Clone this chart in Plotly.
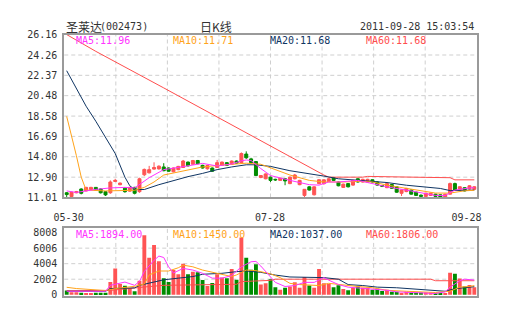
import plotly.graph_objects as go

# ---------------- data ----------------
stock_name = "圣莱达"
stock_code = "(002473)"
chart_title = "日K线"
timestamp = "2011-09-28 15:03:54"
x_tick_labels = ["05-30", "07-28", "09-28"]
price_ticks = [11.01, 12.90, 14.80, 16.69, 18.58, 20.48, 22.37, 24.26, 26.16]
volume_ticks = [0, 2002, 4004, 6006, 8008]

price_legend = ["MA5:11.96", "MA10:11.71", "MA20:11.68", "MA60:11.68"]
volume_legend = ["MA5:1894.00", "MA10:1450.00", "MA20:1037.00", "MA60:1806.00"]

open_ = [11.45, 11.10, 11.45, 11.80, 11.62, 11.75, 11.95, 11.80, 11.55, 11.45,
         12.50, 12.20, 11.88, 11.60, 11.95, 11.55, 13.12, 13.30, 13.65, 13.67,
         13.85, 13.75, 13.40, 13.60, 13.80, 14.30, 14.10, 14.45, 14.00, 13.68,
         13.75, 13.80, 14.00, 14.25, 14.10, 14.40, 14.25, 15.05, 14.60, 14.35,
         12.87, 12.75, 12.90, 12.70, 12.60, 12.75, 12.30, 12.75, 12.20, 11.20,
         12.00, 11.26, 12.30, 12.30, 12.50, 12.85, 12.45, 11.95, 12.30, 12.16,
         12.75, 12.45, 12.45, 12.66, 12.45, 12.12, 11.92, 12.22, 12.00, 11.40,
         11.56, 11.71, 11.50, 11.22, 11.11, 11.20, 11.32, 11.26, 11.05, 11.32,
         12.30, 11.71, 11.92, 11.80, 11.77]
close_ = [11.28, 11.50, 11.55, 11.40, 11.95, 11.95, 11.70, 11.45, 11.25, 12.45,
          12.60, 12.35, 11.55, 11.95, 11.40, 12.75, 13.62, 13.60, 13.80, 13.92,
          13.50, 13.45, 13.75, 13.90, 14.40, 13.95, 14.45, 14.15, 13.75, 13.98,
          13.45, 14.25, 14.30, 14.00, 14.40, 14.20, 15.10, 14.70, 14.25, 13.05,
          13.05, 13.20, 12.60, 12.65, 12.80, 12.55, 12.90, 13.10, 12.60, 11.77,
          11.70, 12.00, 12.66, 12.65, 12.75, 12.60, 12.10, 12.25, 12.00, 12.60,
          12.45, 12.70, 12.70, 12.45, 12.16, 12.06, 12.30, 11.86, 11.50, 11.71,
          11.86, 11.32, 11.20, 11.12, 11.41, 11.41, 11.11, 11.06, 11.32, 12.30,
          11.71, 12.01, 11.62, 12.10, 12.01]
high_ = [11.52, 11.55, 11.62, 11.86, 12.00, 12.00, 11.98, 11.85, 11.60, 12.60,
         12.75, 12.40, 11.95, 12.00, 12.00, 12.85, 13.70, 13.95, 14.28, 14.00,
         14.20, 13.80, 13.80, 13.95, 14.50, 14.35, 14.50, 14.50, 14.05, 14.05,
         13.80, 14.50, 14.35, 14.30, 14.45, 14.45, 15.20, 15.30, 14.70, 14.40,
         13.10, 13.25, 12.95, 12.75, 12.85, 12.80, 12.95, 13.20, 12.65, 11.80,
         12.05, 12.05, 12.70, 12.70, 12.80, 12.90, 12.50, 12.30, 12.35, 12.65,
         12.80, 12.75, 12.75, 12.70, 12.50, 12.16, 12.35, 12.25, 12.05, 11.75,
         11.90, 11.75, 11.55, 11.30, 11.45, 11.45, 11.35, 11.30, 11.35, 12.40,
         12.39, 12.05, 11.97, 12.15, 12.05]
low_ = [11.05, 11.02, 11.40, 11.30, 11.58, 11.70, 11.65, 11.38, 11.15, 11.35,
        12.45, 12.15, 11.45, 11.55, 11.30, 11.45, 13.00, 13.25, 13.60, 13.60,
        13.45, 13.40, 13.35, 13.55, 13.75, 13.90, 14.05, 14.10, 13.70, 13.60,
        13.40, 13.75, 13.95, 13.95, 14.05, 14.15, 14.20, 14.60, 14.20, 13.00,
        12.80, 12.70, 12.45, 12.55, 12.55, 12.15, 12.25, 12.70, 12.15, 11.02,
        11.65, 11.20, 12.25, 12.20, 12.45, 12.55, 12.05, 11.90, 11.95, 12.10,
        12.40, 12.40, 12.40, 12.40, 12.10, 11.98, 11.88, 11.80, 11.45, 11.15,
        11.50, 11.28, 11.15, 11.02, 11.05, 11.15, 11.05, 11.02, 11.02, 11.28,
        11.65, 11.65, 11.58, 11.75, 11.72]
volume = [545, 335, 335, 250, 170, 170, 250, 250, 250, 1630,
          3390, 1380, 1170, 880, 460, 1800, 7670, 4780, 6410, 4320,
          2140, 1630, 3180, 2640, 3980, 2640, 2975, 2890, 1885, 1130,
          1510, 2640, 2220, 2140, 3310, 1930, 7375, 4780, 3230, 3930,
          1310, 1470, 2000, 980, 650, 900, 1060, 1600, 900, 2290,
          1190, 900, 3310, 1470, 1390, 980, 1230, 740, 570, 860,
          1060, 900, 900, 650, 780, 490, 650, 370, 370, 160,
          370, 290, 290, 290, 290, 290, 160, 160, 160, 2820,
          2700, 2090, 1060, 1270, 980]

# price moving averages (bar index, value)
ma5_idx = [0, 2, 6, 9, 12, 14, 17, 20, 24, 28, 31, 34, 36, 37, 38, 40, 42, 44, 46, 50,
           52, 54, 56, 60, 63, 66, 70, 73, 76, 78, 80, 83, 84]
ma5_val = [11.62, 11.48, 11.76, 11.90, 11.95, 11.90, 12.85, 13.60, 13.88, 14.18, 13.94,
           14.12, 14.42, 14.50, 14.45, 13.70, 13.05, 12.80, 12.60, 12.20, 12.16, 12.45,
           12.45, 12.60, 12.30, 12.00, 11.70, 11.42, 11.20, 11.20, 11.70, 11.90, 11.92]
ma10_idx = [0, 1, 2, 3, 4, 8, 12, 14, 16, 18, 20, 24, 28, 31, 34, 37, 40, 43, 46, 50,
            53, 57, 60, 63, 66, 70, 73, 76, 79, 82, 84]
ma10_val = [18.55, 16.80, 14.90, 12.90, 11.70, 11.62, 11.65, 11.68, 11.95, 12.45, 13.10,
            13.50, 13.85, 13.98, 14.08, 14.20, 14.10, 13.60, 13.10, 12.60, 12.45, 12.45,
            12.50, 12.45, 12.16, 11.86, 11.63, 11.42, 11.42, 11.63, 11.68]
ma20_idx = [0, 2, 4, 6, 8, 10, 12, 13, 14, 16, 19, 22, 25, 28, 31, 34, 37, 39, 42, 46,
            50, 53, 56, 60, 63, 66, 70, 73, 77, 79, 82, 84]
ma20_val = [22.80, 21.10, 19.50, 18.10, 16.60, 15.10, 12.90, 12.10, 11.75, 11.75, 12.20,
            12.60, 12.95, 13.25, 13.60, 13.85, 14.05, 14.05, 13.90, 13.50, 13.25, 13.00,
            12.75, 12.60, 12.45, 12.40, 12.15, 12.00, 11.85, 11.65, 11.70, 11.70]
ma60_idx = [0, 6, 20, 33, 41, 47, 53, 54, 61, 62, 73, 74, 79, 80, 84]
ma60_val = [26.16, 24.60, 21.20, 18.00, 16.00, 14.60, 13.10, 12.90, 12.90, 12.97, 12.95,
            12.88, 12.85, 12.65, 12.65]

# volume moving averages (bar index, value)
vma5_idx = [0, 8, 9, 11, 12, 14, 15, 16, 18, 19, 20, 21, 22, 24, 26, 28, 30, 32, 34, 36,
            38, 39, 40, 43, 45, 47, 49, 51, 53, 54, 56, 58, 60, 63, 66, 68, 71, 74, 76,
            78, 79, 81, 82, 84]
vma5_val = [450, 450, 1215, 1508, 1634, 1215, 1718, 3000, 4441, 4986, 4800, 3600, 2800,
            3394, 3184, 2765, 2137, 2137, 2472, 3600, 4250, 4300, 3700, 1595, 1063, 1186,
            1595, 1595, 2209, 1881, 1309, 982, 900, 777, 573, 368, 286, 245, 164, 368,
            982, 1800, 2004, 1894]
vma10_idx = [0, 2, 8, 10, 14, 16, 17, 19, 21, 23, 24, 26, 28, 31, 34, 35, 37, 39, 42, 44,
             46, 48, 52, 54, 56, 60, 63, 66, 70, 73, 76, 79, 81, 83, 84]
vma10_val = [960, 800, 545, 796, 1090, 1383, 2556, 3059, 3059, 3478, 3813, 3603, 3184,
             2765, 2346, 2556, 3184, 3108, 2699, 2209, 1472, 1309, 1186, 1472, 1309, 1063,
             900, 573, 450, 368, 286, 450, 982, 1063, 1186]
vma20_idx = [0, 8, 9, 14, 15, 17, 20, 23, 26, 28, 32, 35, 37, 40, 43, 46, 50, 53, 56, 58,
             61, 64, 68, 71, 74, 78, 80, 82, 84]
vma20_val = [450, 450, 796, 880, 1215, 1508, 1927, 2137, 2346, 2640, 2765, 2975, 3059,
             2891, 2536, 2290, 2209, 2209, 2004, 1309, 1186, 982, 900, 777, 573, 450, 777,
             900, 1037]
vma60_idx = [0, 9, 16, 20, 35, 36, 42, 43, 75, 76, 84]
vma60_val = [520, 560, 1000, 1215, 1350, 1700, 1850, 2004, 2004, 1806, 1806]

# ---------------- styling ----------------
W, H = 505, 330
RED = "#ff5454"
GREEN = "#008c00"
C_MA5 = "#ff33ff"
C_MA10 = "#ffa31a"
C_MA20 = "#0f3563"
C_MA60 = "#ff4d4d"
GRID = "#cfcfcf"
FRAME = "#9a9a9a"
TXT = "#333333"
MONO = "DejaVu Sans Mono"

# pixel layout of the two panels
L, R = 55, 481
P_TOP, P_BOT = 30.5, 198.5
V_TOP, V_BOT = 230, 300


def py(y):
    return 1 - y / H


bars = list(range(len(open_)))
n = len(bars)
bar_colors = [RED if c >= o else GREEN for o, c in zip(open_, close_)]

fig = go.Figure()

fig.add_trace(go.Candlestick(
    x=bars, open=open_, high=high_, low=low_, close=close_,
    increasing=dict(line=dict(color=RED, width=1), fillcolor=RED),
    decreasing=dict(line=dict(color=GREEN, width=1), fillcolor=GREEN),
    whiskerwidth=0, xaxis="x", yaxis="y", showlegend=False, hoverinfo="skip"))

for idx, val, col in [(ma60_idx, ma60_val, C_MA60), (ma20_idx, ma20_val, C_MA20),
                      (ma10_idx, ma10_val, C_MA10), (ma5_idx, ma5_val, C_MA5)]:
    fig.add_trace(go.Scatter(x=idx, y=val, mode="lines", line=dict(color=col, width=1),
                             xaxis="x", yaxis="y", showlegend=False, hoverinfo="skip"))

fig.add_trace(go.Bar(x=bars, y=volume, marker=dict(color=bar_colors, line=dict(width=0)),
                     width=0.8, xaxis="x2", yaxis="y2", showlegend=False, hoverinfo="skip"))

for idx, val, col in [(vma60_idx, vma60_val, C_MA60), (vma20_idx, vma20_val, C_MA20),
                      (vma10_idx, vma10_val, C_MA10), (vma5_idx, vma5_val, C_MA5)]:
    fig.add_trace(go.Scatter(x=idx, y=val, mode="lines", line=dict(color=col, width=1),
                             xaxis="x2", yaxis="y2", showlegend=False, hoverinfo="skip"))

xr = [-0.5, n - 0.5]
xdom = [L / W, R / W]
tickfont = dict(family=MONO, size=10, color=TXT)

fig.update_layout(
    width=W, height=H, margin=dict(l=0, r=0, t=0, b=0),
    paper_bgcolor="white", plot_bgcolor="white",
    showlegend=False, boxgap=0.12,
    xaxis=dict(domain=xdom, range=xr, anchor="y", rangeslider=dict(visible=False),
               tickmode="array", tickvals=[0.4, 41.9, 82.4], ticktext=x_tick_labels,
               ticks="", showgrid=False, zeroline=False, tickfont=tickfont,
               ticklabelstandoff=10,
               showline=True, mirror=True, linecolor=FRAME, linewidth=2),
    yaxis=dict(domain=[py(P_BOT), py(P_TOP)], range=[price_ticks[0], price_ticks[-1]],
               anchor="x", tickmode="array", tickvals=price_ticks,
               ticktext=[f"{v:.2f}" for v in price_ticks], ticks="",
               showgrid=False, zeroline=False, tickfont=tickfont, ticklabelstandoff=3,
               showline=True, mirror=True, linecolor=FRAME, linewidth=2),
    xaxis2=dict(domain=xdom, range=xr, anchor="y2", showticklabels=False, ticks="",
                showgrid=False, zeroline=False,
                showline=True, mirror=True, linecolor=FRAME, linewidth=2),
    yaxis2=dict(domain=[py(V_BOT), py(V_TOP)], range=[-150, 8600], anchor="x2",
                tickmode="array", tickvals=volume_ticks,
                ticktext=[str(v) for v in volume_ticks], ticks="",
                showgrid=False, zeroline=False, tickfont=tickfont, ticklabelstandoff=3,
                showline=True, mirror=True, linecolor=FRAME, linewidth=2),
)

shapes = []
dash = "4px,3px"
# vertical grid: 8 equal columns in both panels
for k in range(1, 8):
    gx = xr[0] + k * (xr[1] - xr[0]) / 8
    for xa, ya in [("x", "y domain"), ("x2", "y2 domain")]:
        shapes.append(dict(type="line", xref=xa, yref=ya, x0=gx, x1=gx, y0=0, y1=1,
                           line=dict(color=GRID, width=1, dash=dash), layer="below"))
for v in price_ticks[1:-1]:
    shapes.append(dict(type="line", xref="x domain", yref="y", x0=0, x1=1, y0=v, y1=v,
                       line=dict(color=GRID, width=1, dash=dash), layer="below"))
for v in volume_ticks[1:-1]:
    shapes.append(dict(type="line", xref="x2 domain", yref="y2", x0=0, x1=1, y0=v, y1=v,
                       line=dict(color=GRID, width=1, dash=dash), layer="below"))
fig.update_layout(shapes=shapes)

ann = []
ann.append(dict(text=stock_name, x=L / W, y=py(22), xref="paper", yref="paper",
                xanchor="left", yanchor="middle", showarrow=False,
                font=dict(family="Noto Sans CJK SC", size=12, color=TXT)))
ann.append(dict(text=stock_code, x=90 / W, y=py(22), xref="paper", yref="paper",
                xanchor="left", yanchor="middle", showarrow=False,
                font=dict(family=MONO, size=10, color=TXT)))
ann.append(dict(text=chart_title, x=212 / W, y=py(22), xref="paper", yref="paper",
                xanchor="center", yanchor="middle", showarrow=False,
                font=dict(family="Noto Sans CJK SC", size=12, color=TXT)))
ann.append(dict(text=timestamp, x=480 / W, y=py(22), xref="paper", yref="paper",
                xanchor="right", yanchor="middle", showarrow=False,
                font=dict(family=MONO, size=10, color=TXT)))
cols = [C_MA5, C_MA10, C_MA20, C_MA60]
for k, (t1, t2, c) in enumerate(zip(price_legend, volume_legend, cols)):
    xl = (65 + 100 * k) / W
    ann.append(dict(text=t1, x=xl, y=py(37), xref="paper", yref="paper",
                    xanchor="left", yanchor="middle", showarrow=False,
                    font=dict(family=MONO, size=10, color=c)))
    ann.append(dict(text=t2, x=xl, y=py(237), xref="paper", yref="paper",
                    xanchor="left", yanchor="middle", showarrow=False,
                    font=dict(family=MONO, size=10, color=c)))
fig.update_layout(annotations=ann)

fig.write_html("out.html")
